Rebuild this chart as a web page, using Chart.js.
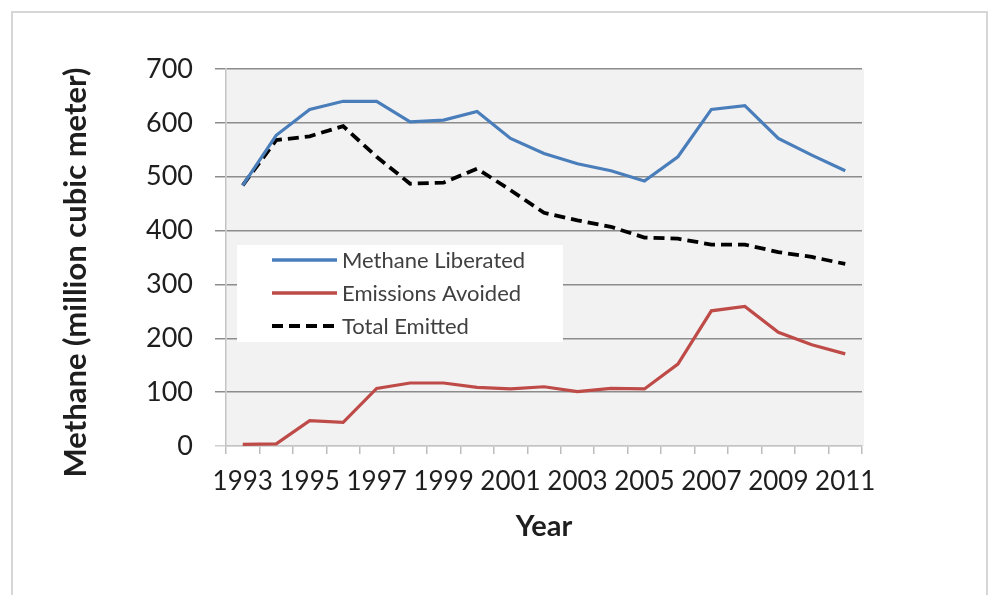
<!DOCTYPE html>
<html>
<head>
<meta charset="utf-8">
<script src="https://cdn.jsdelivr.net/npm/chart.js@4.4.1/dist/chart.umd.min.js"></script>
<style>
  html, body { margin: 0; padding: 0; background: #ffffff; }
  #wrap { position: relative; width: 992px; height: 595px; overflow: hidden; }
  #frame { position: absolute; left: 11px; top: 11px; width: 977px; height: 600px;
           border: 2px solid #d6d6d6; border-bottom: none; box-sizing: border-box; }
  canvas { position: absolute; left: 0; top: 0; }
</style>
</head>
<body>
<div id="wrap">
  <div id="frame"></div>
  <canvas id="c" width="992" height="595"></canvas>
</div>
<script>
// ---- data ----
const years = ['1993','1994','1995','1996','1997','1998','1999','2000','2001','2002',
               '2003','2004','2005','2006','2007','2008','2009','2010','2011'];
const methaneLiberated = [484, 577, 625, 640, 640, 602, 605, 621, 571, 543,
                          524, 511, 492, 537, 625, 632, 571, 540, 511];
const emissionsAvoided = [3, 4, 47, 44, 107, 117, 117, 109, 106, 110,
                          101, 107, 106, 152, 251, 259, 211, 188, 171];
const totalEmitted = [484, 568, 575, 594, 537, 487, 489, 515, 475, 433,
                      419, 407, 387, 385, 374, 374, 360, 351, 338];
const yTicks = [0, 100, 200, 300, 400, 500, 600, 700];
const seriesNames = ['Methane Liberated', 'Emissions Avoided', 'Total Emitted'];

Chart.defaults.font.family = 'Lato, "Open Sans", sans-serif';
Chart.defaults.color = '#1e1e1e';

const plotBg = {
  id: 'plotBg',
  beforeDraw(chart) {
    const {ctx, chartArea: a} = chart;
    ctx.save();
    ctx.fillStyle = '#f2f2f2';
    ctx.fillRect(a.left, a.top, a.right - a.left + 2, a.bottom - a.top);
    ctx.restore();
  }
};

const boxLegend = {
  id: 'boxLegend',
  afterDraw(chart) {
    const {ctx, chartArea: a} = chart;
    const x0 = a.left + 11, y0 = a.top + 176, w = 326, h = 97;
    ctx.save();
    ctx.fillStyle = '#ffffff';
    ctx.fillRect(x0, y0, w, h);
    chart.data.datasets.forEach((ds, i) => {
      const cy = y0 + 15 + i * 33;
      ctx.beginPath();
      ctx.strokeStyle = ds.borderColor;
      ctx.lineWidth = ds.borderDash ? 4 : 3.5;
      ctx.setLineDash(ds.borderDash ? [11, 6] : []);
      ctx.moveTo(x0 + 35, cy);
      ctx.lineTo(x0 + 100, cy);
      ctx.stroke();
      ctx.setLineDash([]);
      ctx.fillStyle = '#404040';
      ctx.font = '22px Lato, "Open Sans", sans-serif';
      ctx.textBaseline = 'middle';
      ctx.textAlign = 'left';
      ctx.fillText(ds.label, x0 + 105, cy + 1);
    });
    ctx.restore();
  }
};

new Chart(document.getElementById('c'), {
  type: 'line',
  data: {
    labels: years,
    datasets: [
      { label: seriesNames[0], data: methaneLiberated, borderColor: '#4a7ebb',
        borderWidth: 3.2, pointRadius: 0, tension: 0, fill: false },
      { label: seriesNames[1], data: emissionsAvoided, borderColor: '#be4b48',
        borderWidth: 3.2, pointRadius: 0, tension: 0, fill: false },
      { label: seriesNames[2], data: totalEmitted, borderColor: '#000000',
        borderWidth: 3.8, borderDash: [11, 6], pointRadius: 0, tension: 0, fill: false }
    ]
  },
  options: {
    responsive: false,
    animation: false,
    events: [],
    layout: { padding: { left: 0, right: 130, top: 69, bottom: 0 } },
    plugins: { legend: { display: false }, tooltip: { enabled: false }, title: { display: false } },
    scales: {
      x: {
        offset: true,
        grid: { offset: true, drawOnChartArea: false, drawTicks: true, tickLength: 8,
                color: '#bdbdbd', lineWidth: 1.5 },
        border: { display: true, color: '#c4c4c4', width: 1.5 },
        ticks: {
          autoSkip: false, maxRotation: 0, padding: 12,
          font: { size: 26 }, color: '#1e1e1e',
          callback: function(v, i) { return i % 2 === 0 ? years[i] : ''; }
        },
        title: { display: true, text: 'Year', color: '#1e1e1e',
                 font: { size: 29, weight: 'bold' }, padding: { top: 0, bottom: 51 } },
        afterFit(scale) { scale.height = 149; }
      },
      y: {
        min: 0, max: 700,
        afterBuildTicks(scale) { scale.ticks = yTicks.map(v => ({ value: v })); },
        grid: {
          tickLength: 11, lineWidth: 1.5,
          color: ctx => (ctx.tick && ctx.tick.value === 0) ? '#cfcfcf' : '#8c8c8c'
        },
        border: { display: true, color: '#c4c4c4', width: 1.5 },
        ticks: { padding: 22, font: { size: 27 }, color: '#1e1e1e' },
        title: { display: true, text: 'Methane (million cubic meter)    ', color: '#1e1e1e',
                 font: { size: 31, weight: 'bold' }, padding: { top: 57, bottom: 0 } },
        afterFit(scale) { scale.width = 226; }
      }
    }
  },
  plugins: [plotBg, boxLegend]
});
</script>
</body>
</html>
